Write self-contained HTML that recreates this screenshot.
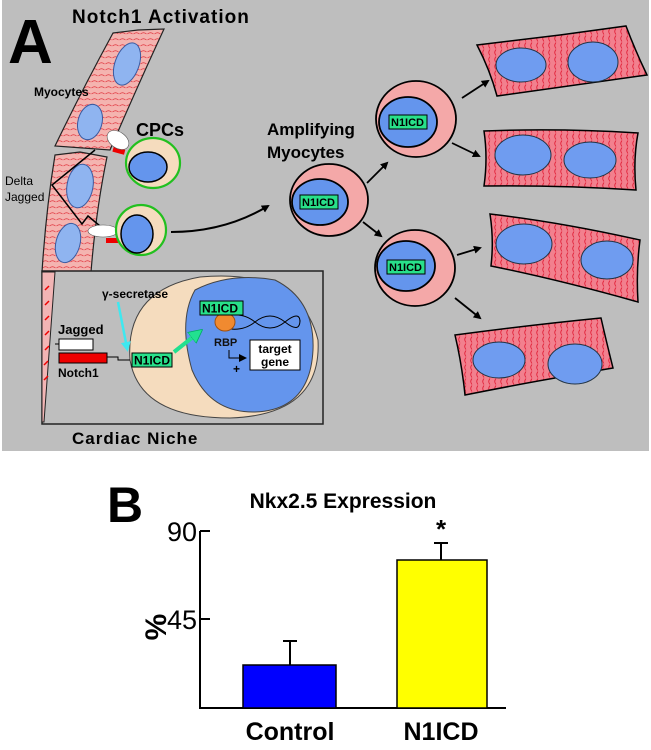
<!DOCTYPE html>
<html><head><style>
html,body{margin:0;padding:0;background:#fff;}
svg{display:block;}
text{font-family:"Liberation Sans",sans-serif;}
</style></head><body>
<svg width="651" height="750" viewBox="0 0 651 750" xmlns="http://www.w3.org/2000/svg">
<defs>
<pattern id="st" width="7" height="6" patternUnits="userSpaceOnUse">
<rect width="7" height="6" fill="#f4b4b0"/>
<path d="M0.5,4 Q3.5,1.5 6.5,4" fill="none" stroke="#e0303a" stroke-width="0.8"/>
</pattern>
<pattern id="sv" width="6" height="7" patternUnits="userSpaceOnUse">
<rect width="6" height="7" fill="#f2808e"/>
<path d="M4,0.5 Q1.5,3.5 4,6.5" fill="none" stroke="#e01830" stroke-width="0.8"/>
</pattern>
<marker id="ah" markerWidth="8" markerHeight="8" refX="6" refY="4" orient="auto" markerUnits="userSpaceOnUse">
<path d="M0,0 L8,4 L0,8 Z" fill="#000"/>
</marker>
<marker id="ahc" markerWidth="10" markerHeight="10" refX="6" refY="5" orient="auto" markerUnits="userSpaceOnUse">
<path d="M0,0 L10,5 L0,10 Z" fill="#3fe8f0"/>
</marker>
<marker id="ahg" markerWidth="14" markerHeight="14" refX="8" refY="7" orient="auto" markerUnits="userSpaceOnUse">
<path d="M0,0 L14,7 L0,14 Z" fill="#22e090" stroke="#0a6" stroke-width="0.8"/>
</marker>
</defs>
<rect x="2" y="0" width="647" height="451" fill="#bebebe"/>

<text x="8" y="63" font-size="62" font-weight="bold">A</text>
<text x="72" y="23" font-size="19" font-weight="bold" letter-spacing="1">Notch1 Activation</text>

<!-- fiber -->
<path d="M113,33 L138,30 L164,29 Q138,85 110,150 L55,146 Q82,90 113,33 Z" fill="url(#st)" stroke="#222" stroke-width="1.2"/>
<path d="M55,155 L80,152 L107,157 Q96,210 91,272 L42,272 Q46,210 55,155 Z" fill="url(#st)" stroke="#222" stroke-width="1.2"/>
<ellipse cx="127" cy="64" rx="12" ry="22" transform="rotate(20 127 64)" fill="#8fb4f0" stroke="#3a5aa0"/>
<ellipse cx="90" cy="122" rx="12" ry="18" transform="rotate(15 90 122)" fill="#8fb4f0" stroke="#3a5aa0"/>
<ellipse cx="80" cy="186" rx="13" ry="22" transform="rotate(10 80 186)" fill="#8fb4f0" stroke="#3a5aa0"/>
<ellipse cx="68" cy="243" rx="12" ry="20" transform="rotate(15 68 243)" fill="#8fb4f0" stroke="#3a5aa0"/>
<text x="34" y="96" font-size="12" font-weight="bold">Myocytes</text>

<path d="M95,150 L52,185 L82,224 L88,216 L100,226" fill="none" stroke="#000" stroke-width="1.5"/>
<text x="5" y="185" font-size="12">Delta</text>
<text x="5" y="201" font-size="12">Jagged</text>

<rect x="113" y="148" width="12" height="5" fill="#e00" transform="rotate(15 118 150)"/>
<ellipse cx="118" cy="140" rx="12" ry="8" transform="rotate(35 118 140)" fill="#fff" stroke="#555" stroke-width="0.6"/>
<rect x="106" y="238" width="12" height="5" fill="#e00"/>
<ellipse cx="103" cy="231" rx="15" ry="6" fill="#fff" stroke="#555" stroke-width="0.6"/>

<ellipse cx="153" cy="163" rx="27" ry="25" fill="#f5dcbe" stroke="#22c020" stroke-width="2.2"/>
<ellipse cx="148" cy="167" rx="19" ry="15" fill="#6495ed" stroke="#000" stroke-width="1.5"/>
<ellipse cx="141" cy="230" rx="25" ry="25" fill="#f5dcbe" stroke="#22c020" stroke-width="2.2"/>
<ellipse cx="137" cy="234" rx="16" ry="19" fill="#6495ed" stroke="#000" stroke-width="1.5"/>
<text x="136" y="136" font-size="18" font-weight="bold">CPCs</text>
<path d="M171,232 Q225,232 268,206" fill="none" stroke="#000" stroke-width="2" marker-end="url(#ah)"/>

<!-- inset -->
<rect x="42" y="271" width="281" height="153" fill="#bebebe" stroke="#222" stroke-width="1.5"/>
<path d="M42,272 L55,272 Q50,340 44,422 L42,422 Z" fill="#f2b5b5" stroke="#222"/>
<path d="M45,290 l4,-4 M45,305 l4,-4 M45,320 l4,-4 M45,335 l4,-4 M45,350 l4,-4 M44,365 l4,-4 M44,380 l4,-4" stroke="#e00" stroke-width="1.5"/>
<path d="M130,360 Q125,290 200,277 Q300,268 318,340 Q322,415 230,418 Q140,418 130,360 Z" fill="#f5dcbe" stroke="#444"/>
<path d="M195,290 Q230,272 275,280 Q315,300 313,350 Q310,410 255,412 Q210,413 192,370 Q178,320 195,290 Z" fill="#6495ed" stroke="#444"/>
<path d="M218,318 Q240,310 255,322 Q270,334 285,322 Q300,310 300,322 M218,326 Q240,334 255,322 Q270,310 285,322 Q300,334 300,320" fill="none" stroke="#000" stroke-width="1"/>
<ellipse cx="225" cy="322" rx="10" ry="9" fill="#f08a30" stroke="#a05010"/>
<rect x="200" y="301" width="43" height="14" fill="#28e08a" stroke="#000"/>
<text x="202" y="312.5" font-size="12" font-weight="bold">N1ICD</text>
<text x="214" y="346" font-size="11" font-weight="bold" fill="#111">RBP</text>
<path d="M229,350 L229,358 L245,358" fill="none" stroke="#000" marker-end="url(#ah)"/>
<text x="233" y="373" font-size="12" font-weight="bold">+</text>
<rect x="250" y="340" width="50" height="30" fill="#fff" stroke="#000"/>
<text x="275" y="353" font-size="12" font-weight="bold" text-anchor="middle">target</text>
<text x="275" y="366" font-size="12" font-weight="bold" text-anchor="middle">gene</text>
<text x="58" y="334" font-size="13" font-weight="bold">Jagged</text>
<rect x="59" y="339" width="34" height="11" fill="#fff" stroke="#000"/>
<line x1="55" y1="344" x2="59" y2="344" stroke="#000"/>
<rect x="59" y="353" width="48" height="10" fill="#e00" stroke="#000"/>
<path d="M107,357 L118,357 L118,360 L130,360" fill="none" stroke="#000"/>
<text x="58" y="377" font-size="12" font-weight="bold">Notch1</text>
<rect x="132" y="353" width="40" height="14" fill="#28e08a" stroke="#000"/>
<text x="134" y="364.5" font-size="12" font-weight="bold">N1ICD</text>
<text x="102" y="298" font-size="12" font-weight="bold">γ-secretase</text>
<line x1="118" y1="302" x2="127" y2="348" stroke="#3fe8f0" stroke-width="2.5" marker-end="url(#ahc)"/>
<line x1="174" y1="352" x2="198" y2="333" stroke="#22e090" stroke-width="4" marker-end="url(#ahg)"/>
<text x="72" y="444" font-size="17" font-weight="bold" letter-spacing="1">Cardiac Niche</text>

<!-- amplifying -->
<text x="267" y="135" font-size="17" font-weight="bold">Amplifying</text>
<text x="267" y="158" font-size="17" font-weight="bold">Myocytes</text>
<g stroke="#000" stroke-width="1.8">
<ellipse cx="329" cy="200" rx="39" ry="36" fill="#f4a8a8"/>
<ellipse cx="320" cy="202" rx="28" ry="23" fill="#6495ed"/>
<ellipse cx="416" cy="119" rx="40" ry="38" fill="#f4a8a8"/>
<ellipse cx="408" cy="122" rx="29" ry="25" fill="#6495ed"/>
<ellipse cx="415" cy="268" rx="40" ry="38" fill="#f4a8a8"/>
<ellipse cx="406" cy="266" rx="29" ry="25" fill="#6495ed"/>
</g>
<g font-size="11" font-weight="bold">
<rect x="300" y="195" width="38" height="14" fill="#28e08a" stroke="#000"/><text x="302" y="206">N1ICD</text>
<rect x="389" y="115" width="38" height="14" fill="#28e08a" stroke="#000"/><text x="391" y="126">N1ICD</text>
<rect x="387" y="260" width="38" height="14" fill="#28e08a" stroke="#000"/><text x="389" y="271">N1ICD</text>
</g>
<g stroke="#000" stroke-width="1.8" marker-end="url(#ah)">
<line x1="367" y1="183" x2="387" y2="163"/>
<line x1="363" y1="222" x2="381" y2="236"/>
<line x1="462" y1="98" x2="488" y2="81"/>
<line x1="452" y1="143" x2="479" y2="156"/>
<line x1="457" y1="255" x2="480" y2="248"/>
<line x1="455" y1="298" x2="480" y2="318"/>
</g>

<g stroke="#000" stroke-width="1.5">
<path d="M477,45 L560,35 L626,26 Q635,50 647,75 Q575,85 497,96 Q490,70 477,45 Z" fill="url(#sv)"/>
<path d="M484,131 Q560,128 638,133 Q633,160 636,190 Q560,185 484,186 Q488,158 484,131 Z" fill="url(#sv)"/>
<path d="M490,214 Q560,222 640,240 Q636,270 638,302 Q560,280 491,266 Q494,240 490,214 Z" fill="url(#sv)"/>
<path d="M455,335 Q530,325 601,318 Q606,340 613,368 Q540,380 465,395 Q462,365 455,335 Z" fill="url(#sv)"/>
</g>
<g fill="#6f9cf0" stroke="#234" stroke-width="1">
<ellipse cx="521" cy="65" rx="25" ry="17"/>
<ellipse cx="593" cy="62" rx="25" ry="20"/>
<ellipse cx="523" cy="155" rx="28" ry="20"/>
<ellipse cx="590" cy="160" rx="26" ry="18"/>
<ellipse cx="524" cy="244" rx="28" ry="20"/>
<ellipse cx="607" cy="260" rx="26" ry="19"/>
<ellipse cx="499" cy="360" rx="26" ry="18"/>
<ellipse cx="575" cy="364" rx="27" ry="20"/>
</g>

<!-- panel B -->
<text x="107" y="522" font-size="50" font-weight="bold">B</text>
<text x="343" y="508" font-size="21" font-weight="bold" text-anchor="middle">Nkx2.5 Expression</text>
<line x1="200" y1="531" x2="200" y2="708" stroke="#000" stroke-width="2"/>
<line x1="199" y1="708" x2="506" y2="708" stroke="#000" stroke-width="2"/>
<line x1="200" y1="531" x2="210" y2="531" stroke="#000" stroke-width="2"/>
<line x1="200" y1="619" x2="210" y2="619" stroke="#000" stroke-width="2"/>
<text x="197" y="541" font-size="27" text-anchor="end">90</text>
<text x="197" y="629" font-size="27" text-anchor="end">45</text>
<text x="0" y="0" font-size="30" font-weight="bold" transform="translate(166,627) rotate(-90)" text-anchor="middle">%</text>
<line x1="290" y1="641" x2="290" y2="665" stroke="#000" stroke-width="2"/>
<line x1="283" y1="641" x2="297" y2="641" stroke="#000" stroke-width="2"/>
<rect x="243" y="665" width="93" height="43" fill="#0000ff" stroke="#000" stroke-width="1.5"/>
<line x1="441" y1="543" x2="441" y2="560" stroke="#000" stroke-width="2"/>
<line x1="434" y1="543" x2="448" y2="543" stroke="#000" stroke-width="2"/>
<rect x="397" y="560" width="90" height="148" fill="#ffff00" stroke="#000" stroke-width="1.5"/>
<text x="441" y="538" font-size="26" font-weight="bold" text-anchor="middle">*</text>
<text x="290" y="740" font-size="25" font-weight="bold" text-anchor="middle">Control</text>
<text x="441" y="740" font-size="25" font-weight="bold" text-anchor="middle">N1ICD</text>
</svg>
</body></html>
